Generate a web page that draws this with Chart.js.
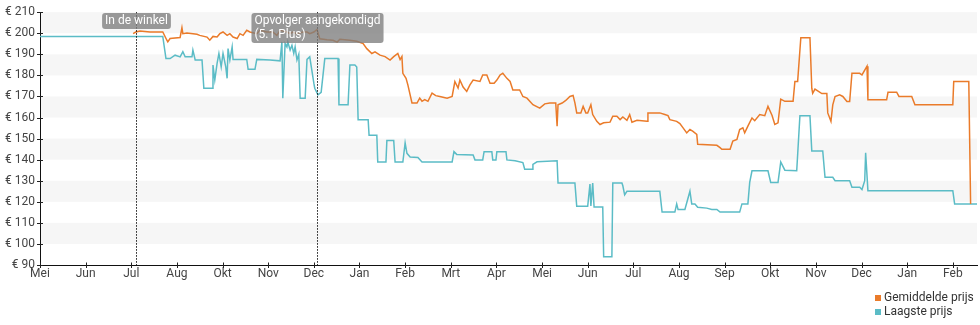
<!DOCTYPE html>
<html>
<head>
<meta charset="utf-8">
<script src="https://cdn.jsdelivr.net/npm/chart.js@4"></script>
<style>
  body { margin: 0; background: #fff; }
  #wrap { width: 980px; height: 325px; }
</style>
</head>
<body>
<div id="wrap"><canvas id="chart"></canvas></div>
<script>
// month ticks, one per month from the first listing
const monthLabels = ["Mei", "Jun", "Jul", "Aug", "Okt", "Nov", "Dec", "Jan", "Feb", "Mrt", "Apr",
    "Mei", "Jun", "Jul", "Aug", "Sep", "Okt", "Nov", "Dec", "Jan", "Feb"];

// average price (x = months since start)
const avgMonth = [2.04, 2.10, 2.19, 2.41, 2.69, 2.78, 2.80, 2.85, 3.07, 3.11, 3.13, 3.22, 3.44, 3.50, 3.66, 3.72,
    3.79, 3.88, 3.94, 4.01, 4.10, 4.16, 4.23, 4.32, 4.38, 4.45, 4.53, 4.60, 4.75, 4.82, 4.97, 5.10, 5.19, 5.26,
    5.41, 5.48, 5.54, 5.63, 5.76, 5.85, 5.91, 6.00, 6.07, 6.13, 6.29, 6.42, 6.51, 6.57, 6.79, 6.94, 7.08, 7.16,
    7.27, 7.34, 7.45, 7.56, 7.67, 7.75, 7.84, 7.89, 7.93, 7.95, 8.02, 8.06, 8.15, 8.26, 8.32, 8.37, 8.43, 8.50,
    8.59, 8.67, 8.76, 8.92, 9.03, 9.09, 9.16, 9.20, 9.27, 9.35, 9.42, 9.49, 9.64, 9.70, 9.79, 9.86, 9.95, 10.01,
    10.08, 10.14, 10.23, 10.30, 10.36, 10.51, 10.58, 10.67, 10.80, 10.95, 11.06, 11.17, 11.30, 11.33, 11.35,
    11.44, 11.52, 11.61, 11.68, 11.72, 11.76, 11.85, 11.90, 11.96, 12.00, 12.07, 12.11, 12.20, 12.27, 12.35,
    12.49, 12.55, 12.64, 12.71, 12.77, 12.86, 12.92, 12.97, 13.08, 13.30, 13.32, 13.58, 13.69, 13.76, 13.80,
    13.95, 14.02, 14.09, 14.17, 14.24, 14.30, 14.39, 14.41, 14.83, 14.90, 14.94, 15.12, 15.18, 15.27, 15.33,
    15.40, 15.44, 15.51, 15.60, 15.66, 15.77, 15.88, 15.95, 16.04, 16.10, 16.17, 16.23, 16.32, 16.50, 16.54,
    16.60, 16.67, 16.87, 16.91, 16.93, 16.98, 17.04, 17.13, 17.24, 17.26, 17.33, 17.37, 17.42, 17.52, 17.59,
    17.68, 17.74, 17.79, 17.96, 18.01, 18.07, 18.12, 18.14, 18.55, 18.58, 18.77, 18.82, 19.10, 19.17, 20.00,
    20.02, 20.35, 20.39];
const avgPrice = [199.8, 200.6, 201.1, 200.6, 200.6, 196.7, 195.9, 197.5, 198, 202.6, 199.8, 200.1, 199.5, 199,
    198.2, 196.7, 198.5, 198.2, 199.8, 200.6, 199, 199.8, 198.2, 197.5, 199.8, 199, 201.4, 200.6, 199.8, 201.4,
    200.6, 200.6, 199, 201.4, 200.6, 199.8, 200.6, 199.8, 200.6, 200.6, 199.8, 200.6, 201.8, 197.4, 196.9, 196.7,
    195.8, 197.2, 196.7, 196.2, 195.1, 192.7, 190.4, 191.2, 189.6, 188.9, 187.3, 188.9, 190.4, 187.5, 189, 181,
    178.6, 175.5, 166.9, 166.9, 169.2, 167.7, 168.5, 167.7, 171.6, 170.4, 170, 169.2, 170, 177.1, 174, 177.8,
    174.5, 172.4, 175.5, 177.8, 177.1, 180.2, 180.2, 176.3, 176.3, 177.8, 180.2, 181, 178.6, 177.1, 173.1, 173.1,
    170, 169.2, 166.1, 164.5, 166.5, 166.9, 166.9, 155.9, 166.1, 166.9, 168.1, 170, 170.5, 167, 162.2, 162.2,
    165.3, 162.2, 162.2, 166.1, 161.4, 158.2, 156.7, 157.5, 157.8, 160.6, 160.6, 159, 160.3, 158.7, 161.4, 157.8,
    158.7, 158.2, 162.2, 162.2, 161.4, 160.9, 159, 158.2, 157.1, 155.1, 152.7, 154.3, 153.5, 152, 147.3, 146.8,
    145.7, 144.9, 144.9, 148.8, 149.6, 154.3, 155.1, 152.7, 155.9, 159.8, 158.5, 161.4, 160.9, 165.3, 161,
    156.7, 157.5, 168.7, 167.7, 167.7, 177.1, 177.1, 197.9, 197.9, 173.9, 171.5, 173.5, 172.7, 171.4, 171.4,
    162.2, 158.2, 166, 170, 170.8, 170, 167.6, 167.6, 181, 181, 180.2, 182.5, 184.4, 168.4, 168.4, 172, 172,
    170, 170, 166.1, 166.1, 177.1, 177.1, 119];

// lowest price
const lowMonth = [0, 2.69, 2.76, 2.85, 2.96, 3.07, 3.13, 3.18, 3.33, 3.35, 3.40, 3.55, 3.59, 3.77, 3.79, 3.83,
    3.88, 3.92, 3.97, 4.01, 4.07, 4.10, 4.12, 4.16, 4.21, 4.23, 4.53, 4.56, 4.71, 4.75, 5.04, 5.26, 5.30, 5.32,
    5.37, 5.41, 5.43, 5.48, 5.52, 5.56, 5.59, 5.63, 5.67, 5.70, 5.81, 5.85, 5.91, 6.00, 6.02, 6.09, 6.16, 6.24,
    6.53, 6.55, 6.75, 6.79, 6.90, 6.94, 6.97, 7.19, 7.21, 7.38, 7.40, 7.58, 7.60, 7.75, 7.78, 7.95, 8.00, 8.04,
    8.11, 8.28, 8.37, 9.03, 9.07, 9.13, 9.49, 9.53, 9.70, 9.73, 9.90, 9.92, 9.99, 10.01, 10.21, 10.23, 10.41,
    10.58, 10.62, 10.78, 10.80, 10.89, 11.33, 11.35, 11.72, 11.76, 12.00, 12.05, 12.07, 12.11, 12.14, 12.33,
    12.35, 12.53, 12.55, 12.75, 12.77, 12.81, 12.86, 13.58, 13.63, 13.91, 13.95, 13.98, 14.13, 14.24, 14.28,
    14.35, 14.41, 14.61, 14.72, 14.83, 14.90, 15.33, 15.38, 15.51, 15.55, 15.60, 15.95, 16.01, 16.17, 16.23,
    16.32, 16.58, 16.65, 16.87, 16.91, 17.15, 17.20, 17.37, 17.42, 17.74, 17.79, 17.96, 18.01, 18.07, 18.09,
    18.14, 20.00, 20.04, 20.53];
const lowPrice = [198.5, 198.5, 188, 188, 189.6, 188.8, 191.2, 188.8, 188.8, 192, 187.3, 187.3, 173.9, 173.9,
    184.9, 177.8, 185.7, 190.4, 184.1, 190.4, 184, 178.6, 192.7, 187.3, 193.5, 187.6, 187.6, 182.9, 182.9, 187.6,
    187.3, 186.9, 195.9, 169.2, 195.1, 193.5, 195.9, 192, 194.3, 190.4, 193.5, 187.3, 190, 169.2, 169.2, 187.6,
    188.8, 176.3, 173.9, 170.8, 172, 188, 188, 166.1, 166.1, 184.9, 184.9, 184, 159, 159, 151.6, 151.6, 138.9,
    138.9, 149.1, 149.1, 138.9, 138.9, 148, 143, 141.3, 141, 138.9, 138.9, 143.8, 142.5, 142.2, 139.9, 139.9,
    143.8, 143.8, 139.9, 139.9, 143.8, 143.8, 139.9, 139.5, 138.6, 135.5, 135.5, 137.8, 139, 139.5, 128.9, 128.9,
    117.9, 117.9, 128.4, 118, 128.9, 117.5, 117.5, 93.9, 93.9, 128.9, 128.9, 127.6, 123.3, 125, 125, 115.1,
    115.1, 119, 116.4, 116.4, 125, 119, 119, 117.4, 117, 116.4, 116.4, 115.1, 115.1, 119, 119, 129.2, 134.7,
    134.7, 129.2, 129.2, 138.9, 135, 134.7, 160.9, 160.9, 144.1, 144.1, 131.6, 131.6, 130, 130, 126.9, 126.9,
    125.8, 130, 143.3, 125.3, 125.3, 119, 119];

// marked moments on the timeline
const eventMonth = [2.10, 6.07];
const eventText = [["In de winkel"], ["Opvolger aangekondigd", "(5.1 Plus)"]];

const toPoints = (xs, ys) => xs.map((x, i) => ({ x: x, y: ys[i] }));
const font = "Roboto, 'Noto Sans', sans-serif";

// light stripes every other 10 euro
const bands = {
    id: "bands",
    beforeDraw(chart) {
        const { ctx, chartArea: a, scales: { y } } = chart;
        ctx.save();
        ctx.fillStyle = "#f6f6f6";
        for (let v = 100; v < 210; v += 20) {
            const top = y.getPixelForValue(v + 10);
            const bottom = y.getPixelForValue(v);
            ctx.fillRect(a.left + 1, top, a.right - a.left - 1, bottom - top);
        }
        ctx.restore();
    }
};

// small tick marks that cross both axes
const crossTicks = {
    id: "crossTicks",
    afterDraw(chart) {
        const { ctx, chartArea: a, scales: { x, y } } = chart;
        ctx.save();
        ctx.strokeStyle = "#222";
        ctx.lineWidth = 1;
        ctx.beginPath();
        monthLabels.forEach((_, i) => {
            const px = Math.round(x.getPixelForValue(i)) + 0.5;
            ctx.moveTo(px, a.bottom - 2.5);
            ctx.lineTo(px, a.bottom + 3);
        });
        for (let v = 90; v <= 210; v += 10) {
            const py = Math.round(y.getPixelForValue(v)) + 0.5;
            ctx.moveTo(a.left - 3, py);
            ctx.lineTo(a.left + 3, py);
        }
        ctx.stroke();
        ctx.restore();
    }
};

// dotted event lines with their grey labels
const events = {
    id: "events",
    afterDatasetsDraw(chart) {
        const { ctx, chartArea: a, scales: { x } } = chart;
        ctx.save();
        eventMonth.forEach((m, i) => {
            const px = Math.round(x.getPixelForValue(m)) + 0.5;
            ctx.strokeStyle = "#111";
            ctx.lineWidth = 1;
            ctx.setLineDash([1.5, 1.5]);
            ctx.beginPath();
            ctx.moveTo(px, a.top);
            ctx.lineTo(px, a.bottom);
            ctx.stroke();
            ctx.setLineDash([]);

            const lines = eventText[i];
            ctx.font = "12px " + font;
            const w = Math.max(...lines.map(t => ctx.measureText(t).width)) + 6;
            const h = lines.length * 14 + 2;
            const left = px - w / 2;
            const top = 13;
            ctx.fillStyle = "rgba(125, 125, 125, 0.78)";
            ctx.beginPath();
            ctx.roundRect(left, top, w, h, 3);
            ctx.fill();
            ctx.fillStyle = "#fff";
            ctx.textBaseline = "middle";
            lines.forEach((t, j) => ctx.fillText(t, left + 3, top + 8 + j * 14));
        });
        ctx.restore();
    }
};

// legend stacked in the lower right corner
const cornerLegend = {
    id: "cornerLegend",
    afterDraw(chart) {
        const ctx = chart.ctx;
        ctx.save();
        ctx.font = "12px " + font;
        ctx.textBaseline = "middle";
        chart.data.datasets.forEach((ds, i) => {
            const cy = 298 + i * 14;
            ctx.fillStyle = ds.borderColor;
            ctx.fillRect(875, cy - 3, 6, 6);
            ctx.fillStyle = "#333";
            ctx.fillText(ds.label, 884, cy);
        });
        ctx.restore();
    }
};

new Chart(document.getElementById("chart"), {
    type: "line",
    data: {
        datasets: [
            {
                label: "Gemiddelde prijs",
                data: toPoints(avgMonth, avgPrice),
                borderColor: "#ea7b2a",
                borderWidth: 1.5,
                pointRadius: 0,
                tension: 0
            },
            {
                label: "Laagste prijs",
                data: toPoints(lowMonth, lowPrice),
                borderColor: "#5bbcc6",
                borderWidth: 1.5,
                pointRadius: 0,
                tension: 0
            }
        ]
    },
    options: {
        responsive: true,
        maintainAspectRatio: false,
        animation: false,
        layout: { padding: { top: 10, right: 3, left: 0, bottom: 0 } },
        plugins: {
            legend: { display: false },
            tooltip: { enabled: false }
        },
        scales: {
            x: {
                type: "linear",
                min: 0,
                max: 20.53,
                afterBuildTicks: s => { s.ticks = monthLabels.map((_, i) => ({ value: i })); },
                afterFit: s => { s.height = 60; },
                grid: { display: false, drawTicks: false },
                border: { display: true, color: "#111", width: 1 },
                ticks: {
                    callback: v => monthLabels[v],
                    autoSkip: false,
                    maxRotation: 0,
                    padding: 2,
                    color: "#444",
                    font: { family: font, size: 12 }
                }
            },
            y: {
                min: 90,
                max: 210,
                afterFit: s => { s.width = 40; },
                grid: { display: false, drawTicks: false },
                border: { display: true, color: "#111", width: 1 },
                ticks: {
                    stepSize: 10,
                    callback: v => "€ " + v,
                    padding: 5,
                    color: "#444",
                    font: { family: font, size: 12 }
                }
            }
        }
    },
    plugins: [bands, crossTicks, events, cornerLegend]
});
</script>
</body>
</html>
